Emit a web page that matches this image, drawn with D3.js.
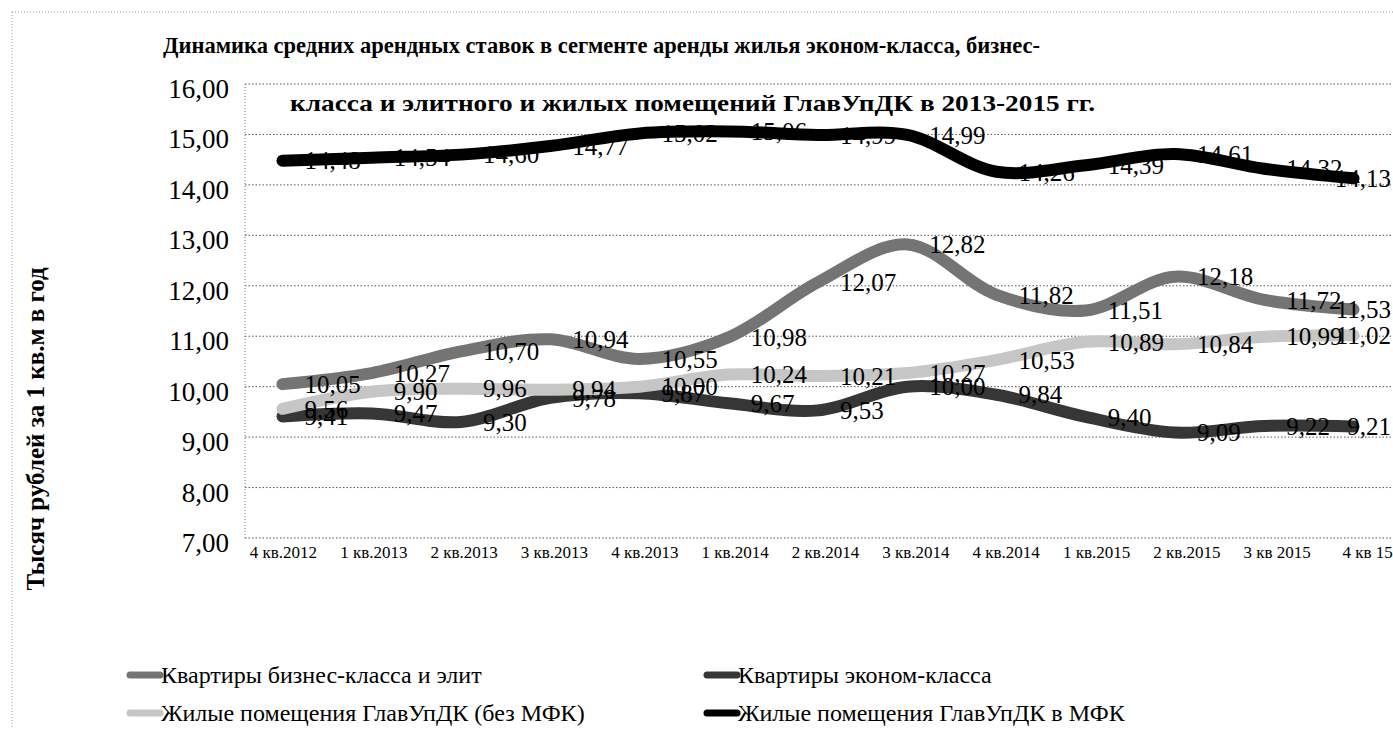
<!DOCTYPE html>
<html><head><meta charset="utf-8">
<script src="https://cdn.jsdelivr.net/npm/d3@7/dist/d3.min.js"></script>
<style>
html,body{margin:0;padding:0;background:#fff;}
svg{display:block;font-family:"Liberation Serif","Times New Roman",serif;}
</style></head>
<body>
<svg id="chart" width="1393" height="729"></svg>
<script>
// ---- data ----
const categories = ["4 кв.2012","1 кв.2013","2 кв.2013","3 кв.2013","4 кв.2013","1 кв.2014","2 кв.2014","3 кв.2014","4 кв.2014","1 кв.2015","2 кв.2015","3 кв 2015","4 кв 15"];
const businessValues = [10.05,10.27,10.70,10.94,10.55,10.98,12.07,12.82,11.82,11.51,12.18,11.72,11.53];
const economyValues  = [9.41,9.47,9.30,9.78,9.87,9.67,9.53,10.00,9.84,9.40,9.09,9.22,9.21];
const glavNoMfkValues = [9.56,9.90,9.96,9.94,10.00,10.24,10.21,10.27,10.53,10.89,10.84,10.99,11.02];
const glavMfkValues  = [14.48,14.54,14.60,14.77,15.02,15.06,14.99,14.99,14.26,14.39,14.61,14.32,14.13];
const seriesNames = ["Квартиры бизнес-класса и элит","Квартиры эконом-класса","Жилые помещения ГлавУпДК (без МФК)","Жилые помещения ГлавУпДК в МФК"];
const yTicks = [7,8,9,10,11,12,13,14,15,16];
const titleLines = ["Динамика средних арендных ставок в сегменте аренды жилья эконом-класса, бизнес-","класса и элитного и жилых помещений ГлавУпДК в 2013-2015 гг."];
const yTitle = "Тысяч рублей за 1 кв.м в год";

// ---- setup ----
const series = [
  {name: seriesNames[0], values: businessValues, color: "#747474"},
  {name: seriesNames[1], values: economyValues, color: "#363636"},
  {name: seriesNames[2], values: glavNoMfkValues, color: "#c6c6c6"},
  {name: seriesNames[3], values: glavMfkValues, color: "#000000"}
];
const svg = d3.select("#chart");
const plotL = 245, plotR = 1391, plotT = 84, plotB = 538;
const ru = d3.formatLocale({decimal: ",", thousands: " ", grouping: [3], currency: ["", ""]});
const fmt = ru.format(".2f");

const x = d3.scalePoint().domain(categories).range([plotL, plotR]).padding(0.42);
// category labels in the scan sit on a slightly wider spacing than the plotted points
const xLabels = x.copy().range([plotL, plotR + 14]);
const y = d3.scaleLinear().domain([7, 16]).range([plotB, plotT]);

// outer dotted border
svg.append("line").attr("x1",12).attr("x2",1393).attr("y1",12).attr("y2",12)
  .attr("stroke","#999").attr("stroke-dasharray","1,2");
svg.append("line").attr("x1",12).attr("x2",12).attr("y1",12).attr("y2",729)
  .attr("stroke","#999").attr("stroke-dasharray","1,2");

// grid
svg.append("g").selectAll("line").data(yTicks).join("line")
  .attr("x1", plotL).attr("x2", plotR)
  .attr("y1", d => y(d)).attr("y2", d => y(d))
  .attr("stroke", "#555").attr("stroke-dasharray", "1.5,2");
svg.append("line").attr("x1",plotL).attr("x2",plotL).attr("y1",plotT).attr("y2",plotB)
  .attr("stroke","#777").attr("stroke-dasharray","1,2");

// axes
const yAxis = svg.append("g").attr("transform", `translate(${plotL},0)`)
  .call(d3.axisLeft(y).tickValues(yTicks).tickFormat(fmt).tickSize(0).tickPadding(16));
yAxis.select(".domain").remove();
yAxis.selectAll("text").attr("font-size", 27).attr("font-family","Liberation Serif").attr("fill","#000").attr("dy","0.5em");

const xAxis = svg.append("g").attr("transform", `translate(0,${plotB})`)
  .call(d3.axisBottom(xLabels).tickSize(0).tickPadding(8));
xAxis.select(".domain").remove();
xAxis.selectAll("text").attr("font-size", 17).attr("font-family","Liberation Serif").attr("fill","#000");

// title
svg.append("g").selectAll("text").data(titleLines).join("text")
  .attr("x", (d,i) => i === 0 ? 163 : 290)
  .attr("y", (d,i) => i === 0 ? 53 : 111)
  .attr("font-size", 22.5).attr("font-weight", "bold")
  .attr("textLength", (d,i) => i === 0 ? 877 : 805)
  .attr("lengthAdjust", "spacingAndGlyphs")
  .text(d => d);

// y title
svg.append("text").attr("transform", "translate(44,429) rotate(-90)")
  .attr("text-anchor","middle").attr("font-size", 25).attr("font-weight","bold").text(yTitle);

// lines
const line = d3.line().x((d,i) => x(categories[i])).y(d => y(d)).curve(d3.curveCatmullRom.alpha(0.5));
svg.append("g").selectAll("path").data(series).join("path")
  .attr("d", d => line(d.values))
  .attr("fill","none").attr("stroke", d => d.color).attr("stroke-width", 12)
  .attr("stroke-linecap","round").attr("stroke-linejoin","round");

// data labels
const lblG = svg.append("g");
series.forEach(s => {
  s.values.forEach((v,i) => {
    const t = lblG.append("text").attr("x", x(categories[i]) + 22).attr("y", y(v))
      .attr("dy","0.35em").attr("font-size", 25).attr("fill","#000").text(fmt(v));
    const w = t.node().getComputedTextLength();
    if (x(categories[i]) + 22 + w > 1391) t.attr("x", 1391 - w);
  });
});

// legend
const legendPos = [[130,675],[707,675],[130,713],[707,713]];
const lg = svg.append("g").selectAll("g").data(series).join("g")
  .attr("transform", (d,i) => `translate(${legendPos[i][0]},${legendPos[i][1]})`);
lg.append("line").attr("x1",0).attr("x2",30).attr("y1",0).attr("y2",0)
  .attr("stroke", d => d.color).attr("stroke-width", 7).attr("stroke-linecap","round");
lg.append("text").attr("x", 31).attr("y", 0).attr("dy","0.35em").attr("font-size", 24).text(d => d.name);
</script>
</body></html>
